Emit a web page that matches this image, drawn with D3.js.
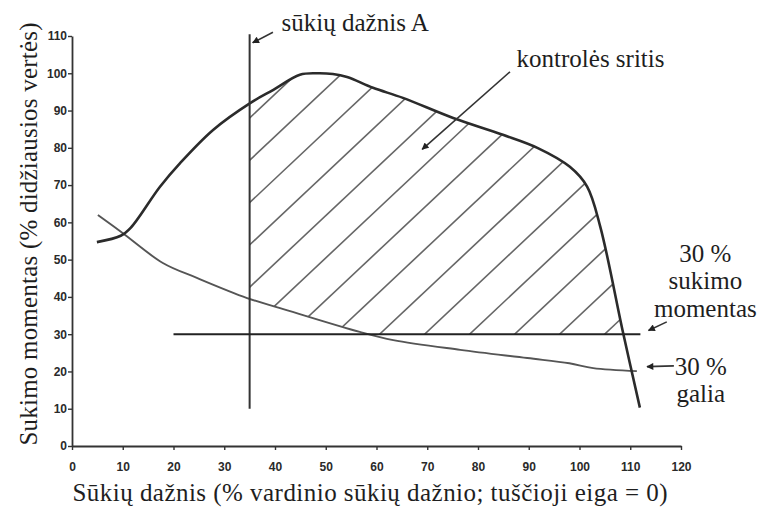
<!DOCTYPE html>
<html>
<head>
<meta charset="utf-8">
<script src="https://cdn.jsdelivr.net/npm/d3@7"></script>
<style>
  html, body { margin: 0; padding: 0; background: #fff; }
  svg { display: block; }
  .serif { font-family: "Liberation Serif", "DejaVu Serif", "Noto Serif", "Times New Roman", Times, serif; font-size: 25px; fill: #1e1e1e; }
</style>
</head>
<body>
<svg id="chart" width="758" height="513"></svg>
<script>
// Axis ticks
const speedTicks = [0, 10, 20, 30, 40, 50, 60, 70, 80, 90, 100, 110, 120];
const torqueTicks = [0, 10, 20, 30, 40, 50, 60, 70, 80, 90, 100, 110];

// Full-load torque curve (% of max torque vs % of rated speed)
const torqueSpeed = [4.9, 9.6, 11.6, 17.3, 21.3, 27.8, 35.1, 39.6, 44.9, 48.2, 51.4, 54.2, 59.3, 65.2, 75.1, 84.9, 91.7, 98.1, 101.5, 104.1, 108.6, 111.9];
const torqueValue = [54.7, 56.4, 58.6, 69.5, 75.9, 84.8, 92.0, 95.5, 99.6, 100.0, 99.8, 99.0, 96.1, 93.4, 88.0, 83.5, 80.0, 74.9, 69.6, 58.8, 30.3, 10.3];

// 30 % power curve
const powerSpeed = [5.1, 9.9, 17.9, 24.6, 34.5, 41.0, 56.7, 63.3, 76.5, 89.7, 98.0, 102.7, 111.3];
const powerValue = [62.0, 57.2, 49.1, 45.1, 39.7, 37.0, 30.6, 28.4, 25.8, 23.6, 22.2, 20.9, 20.1];

// Reference lines
const speedA = 35;
const speedASpan = [10, 110.5];
const torqueLimit = 30;
const torqueLimitSpan = [20, 112];

const svg = d3.select("#chart");
const x = d3.scaleLinear().domain([0, 120]).range([72, 681]);
const y = d3.scaleLinear().domain([0, 110]).range([446, 36]);

const torque = torqueSpeed.map((s, i) => ({ s, v: torqueValue[i] }));
const power = powerSpeed.map((s, i) => ({ s, v: powerValue[i] }));
const curve = d3.curveCatmullRom.alpha(0.5);

const defs = svg.append("defs");

// Arrow head
defs.append("marker")
  .attr("id", "arrow")
  .attr("viewBox", "0 0 10 10")
  .attr("refX", 9).attr("refY", 5)
  .attr("markerUnits", "userSpaceOnUse")
  .attr("markerWidth", 9).attr("markerHeight", 7)
  .attr("orient", "auto")
  .append("path").attr("d", "M0,0 L10,5 L0,10 Z").attr("fill", "#222");

// Control area = right of speed A, above 30 % torque, above 30 % power, below full-load torque
defs.append("clipPath").attr("id", "clipBox")
  .append("rect")
  .attr("x", x(speedA)).attr("y", y(115))
  .attr("width", x(120) - x(speedA))
  .attr("height", y(torqueLimit) - y(115));

defs.append("clipPath").attr("id", "clipPower")
  .append("path")
  .attr("d", d3.area().curve(curve).x(d => x(d.s)).y0(y(115)).y1(d => y(d.v))(power));

defs.append("clipPath").attr("id", "clipTorque")
  .append("path")
  .attr("d", d3.area().curve(curve).x(d => x(d.s)).y0(y(0)).y1(d => y(d.v))(torque));

// Hatching
const hatchStep = 42.3, hatchSlope = 0.94;
const hx = x(speedA), hy = y(88);
const hatchLines = d3.range(-14, 15).map(k => {
  const y0 = hy + k * hatchStep;
  const xl = hx - 5, xr = x(120);
  return { x1: xl, y1: y0 - hatchSlope * (xl - hx), x2: xr, y2: y0 - hatchSlope * (xr - hx) };
});

svg.append("g").attr("clip-path", "url(#clipBox)")
  .append("g").attr("clip-path", "url(#clipPower)")
  .append("g").attr("clip-path", "url(#clipTorque)")
  .selectAll("line").data(hatchLines).join("line")
  .attr("x1", d => d.x1).attr("y1", d => d.y1)
  .attr("x2", d => d.x2).attr("y2", d => d.y2)
  .attr("stroke", "#666").attr("stroke-width", 1.6);

// Axes
const xAxis = svg.append("g")
  .attr("transform", `translate(0,${y(0)})`)
  .call(d3.axisBottom(x).tickValues(speedTicks).tickSize(4).tickSizeOuter(0).tickPadding(12));
const yAxis = svg.append("g")
  .attr("transform", `translate(${x(0)},0)`)
  .call(d3.axisLeft(y).tickValues(torqueTicks).tickSize(4).tickSizeOuter(0).tickPadding(1));
[xAxis, yAxis].forEach(a => {
  a.select(".domain").attr("stroke", "#333").attr("stroke-width", 1.8);
  a.selectAll(".tick line").attr("stroke", "#333").attr("stroke-width", 1.4);
  a.selectAll(".tick text")
    .attr("fill", "#2a2a2a")
    .style("font-family", "'Liberation Sans', Arial, sans-serif")
    .style("font-weight", "bold")
    .style("font-size", "12px");
});

// 30 % power curve
svg.append("path")
  .attr("d", d3.line().curve(curve).x(d => x(d.s)).y(d => y(d.v))(power))
  .attr("fill", "none").attr("stroke", "#555").attr("stroke-width", 1.9);

// Full-load torque curve
svg.append("path")
  .attr("d", d3.line().curve(curve).x(d => x(d.s)).y(d => y(d.v))(torque))
  .attr("fill", "none").attr("stroke", "#2b2b2b").attr("stroke-width", 2.6);

// Speed A line
svg.append("line")
  .attr("x1", x(speedA)).attr("x2", x(speedA))
  .attr("y1", y(speedASpan[0])).attr("y2", y(speedASpan[1]))
  .attr("stroke", "#333").attr("stroke-width", 2);

// 30 % torque line
svg.append("line")
  .attr("x1", x(torqueLimitSpan[0])).attr("x2", x(torqueLimitSpan[1]))
  .attr("y1", y(torqueLimit)).attr("y2", y(torqueLimit))
  .attr("stroke", "#222").attr("stroke-width", 2);

// Annotations
function label(txt, px, py, anchor) {
  return svg.append("text")
    .attr("class", "serif")
    .attr("x", px).attr("y", py)
    .attr("text-anchor", anchor || "start")
    .text(txt);
}
function arrow(p0, p1) {
  svg.append("line")
    .attr("x1", x(p0[0])).attr("y1", y(p0[1]))
    .attr("x2", x(p1[0])).attr("y2", y(p1[1]))
    .attr("stroke", "#333").attr("stroke-width", 1.6)
    .attr("marker-end", "url(#arrow)");
}

label("sūkių dažnis A", x(41.3), y(111.3));
arrow([39.6, 111.0], [35.6, 108.2]);

label("kontrolės sritis", x(87.6), y(101.7));
arrow([86.3, 100.4], [69.0, 79.6]);

label("30 %", x(124.8), y(49.4), "middle");
label("sukimo", x(124.8), y(42.2), "middle");
label("momentas", x(124.8), y(34.6), "middle");
arrow([117.2, 33.3], [113.6, 31.0]);

label("30 %", x(123.9), y(19.0), "middle");
label("galia", x(123.9), y(11.7), "middle");
arrow([118.6, 21.5], [113.3, 21.3]);

// Axis titles
label("Sūkių dažnis (% vardinio sūkių dažnio; tuščioji eiga = 0)", (x(0) + 668) / 2, 501, "middle")
  .attr("textLength", 595).attr("lengthAdjust", "spacing");
svg.append("text")
  .attr("class", "serif")
  .attr("transform", `translate(37,${(y(0) + 22) / 2}) rotate(-90)`)
  .attr("text-anchor", "middle")
  .attr("textLength", 423).attr("lengthAdjust", "spacing")
  .text("Sukimo momentas (% didžiausios vertės)");
</script>
</body>
</html>
